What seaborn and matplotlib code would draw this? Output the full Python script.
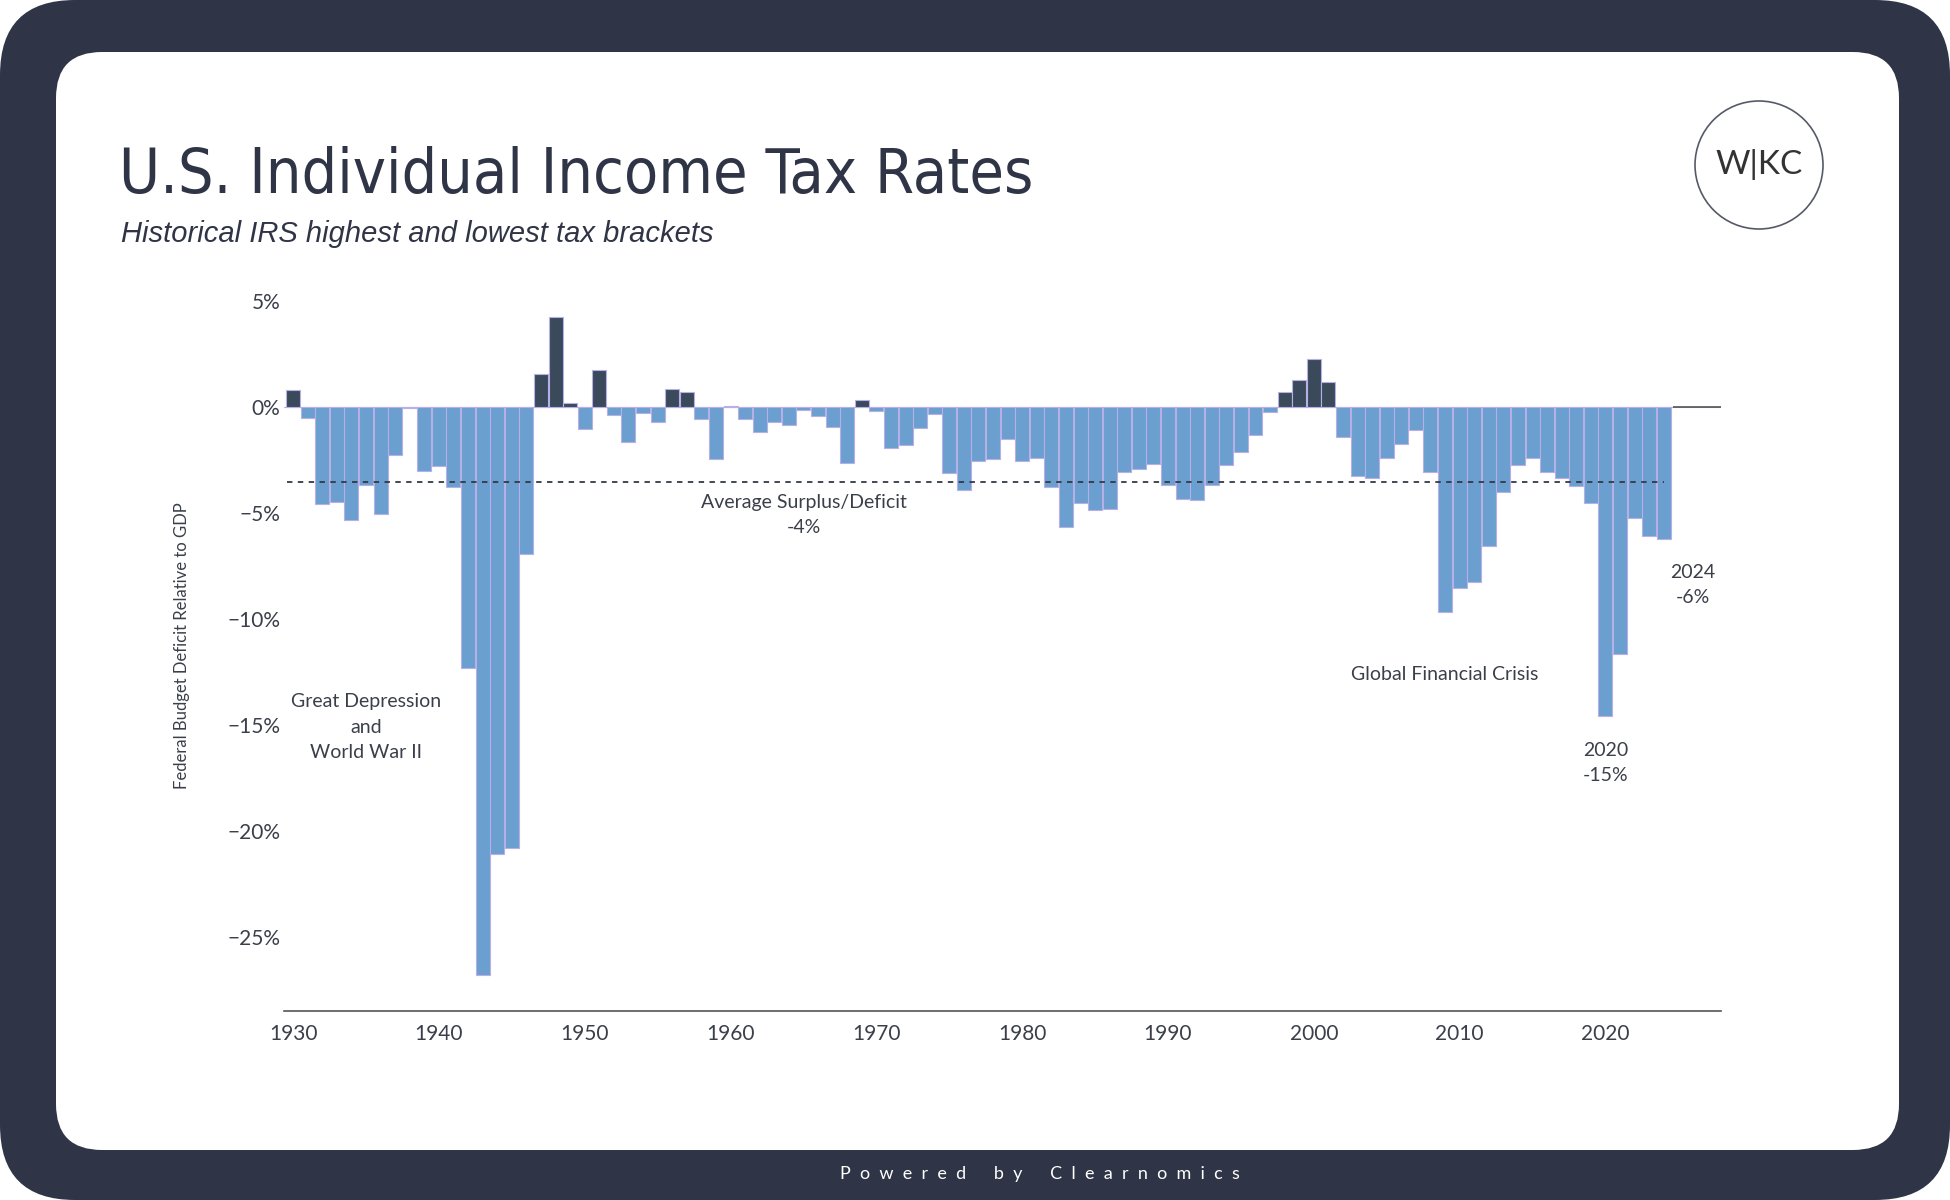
import numpy as np
import pandas as pd
import seaborn as sns
import matplotlib.pyplot as plt
from matplotlib.patches import FancyBboxPatch, Ellipse

# Federal surplus (+) / deficit (-) as % of GDP, 1930-2024
years = list(range(1930, 2025))
values = [
    0.78, -0.53, -4.57, -4.48, -5.33, -3.70, -5.03, -2.28, -0.05, -3.00,    # 1930s
    -2.79, -3.76, -12.3, -26.8, -21.1, -20.8, -6.95, 1.57, 4.25, 0.19,      # 1940s
    -1.02, 1.73, -0.38, -1.64, -0.27, -0.69, 0.85, 0.69, -0.55, -2.44,      # 1950s
    0.05, -0.58, -1.17, -0.71, -0.87, -0.14, -0.41, -0.95, -2.63, 0.32,     # 1960s
    -0.20, -1.95, -1.79, -1.00, -0.35, -3.10, -3.91, -2.53, -2.47, -1.50,   # 1970s
    -2.55, -2.42, -3.78, -5.68, -4.54, -4.86, -4.79, -3.06, -2.94, -2.67,   # 1980s
    -3.67, -4.33, -4.41, -3.69, -2.75, -2.10, -1.30, -0.24, 0.72, 1.27,     # 1990s
    2.26, 1.16, -1.41, -3.25, -3.34, -2.40, -1.76, -1.08, -3.08, -9.69,     # 2000s
    -8.54, -8.27, -6.58, -3.99, -2.72, -2.40, -3.08, -3.36, -3.74, -4.52,   # 2010s
    -14.57, -11.65, -5.26, -6.08, -6.22,                                    # 2020s
]
avg_deficit = -3.55
yticks = [5, 0, -5, -10, -15, -20, -25]
ytick_labels = ["5%", "0%", "\u22125%", "\u221210%", "\u221215%", "\u221220%", "\u221225%"]
xtick_years = [1930, 1940, 1950, 1960, 1970, 1980, 1990, 2000, 2010, 2020]

NAVY = "#2f3546"
TEXT = "#3a3f4a"
BLUE = "#6b9fcf"
DARK = "#3b4a5b"
EDGE = "#b7b0e6"

df = pd.DataFrame({"year": years, "value": values})
df["kind"] = np.where(df["value"] > 0, "surplus", "deficit")

sns.set_theme(style="white")
plt.rcParams["font.family"] = ["Lato", "DejaVu Sans"]

fig = plt.figure(figsize=(19.5, 12), dpi=100)

# background frame in pixel coordinates
bg = fig.add_axes([0, 0, 1, 1], zorder=0)
bg.set_xlim(0, 1950)
bg.set_ylim(0, 1200)
bg.axis("off")
bg.add_patch(FancyBboxPatch((0, 0), 1950, 1200, boxstyle="round,pad=0,rounding_size=75",
                            facecolor=NAVY, edgecolor="none"))
bg.add_patch(FancyBboxPatch((56, 50), 1843, 1098, boxstyle="round,pad=0,rounding_size=46",
                            facecolor="white", edgecolor="none"))

bg.text(119, 1007, "U.S. Individual Income Tax Rates", fontsize=45, color=NAVY,
        family="DejaVu Sans", fontstretch="condensed", ha="left", va="baseline")
bg.text(121, 958, "Historical IRS highest and lowest tax brackets", fontsize=21, color=NAVY,
        style="italic", family=["Liberation Sans", "DejaVu Sans"], ha="left", va="baseline")
bg.add_patch(Ellipse((1759, 1035), 128, 128, facecolor="white", edgecolor="#555a66", lw=1.2))
bg.text(1759, 1035, "W|KC", fontsize=24, color="#333333", ha="center", va="center")

footer = "      ".join("  ".join(word) for word in ["Powered", "by", "Clearnomics"])
bg.text(1040, 26, footer, fontsize=13, color="white", ha="center", va="center")

# main chart
ax = fig.add_axes([0.1458, 0.1575, 0.7366, 0.6093], zorder=1)
ax.patch.set_alpha(0)
sns.barplot(data=df, x="year", y="value", hue="kind", palette={"surplus": DARK, "deficit": BLUE},
            dodge=False, legend=False, width=0.96, edgecolor=EDGE, linewidth=0.8,
            saturation=1, ax=ax, zorder=2)

ax.set_xlim(-0.6, 97.9)
ax.set_ylim(-28.5, 6)
ax.axhline(0, color=EDGE, lw=0.8, zorder=1)
ax.hlines(0, len(years) - 0.4, 97.9, color="#555555", lw=1.2, zorder=3)
ax.hlines(avg_deficit, -0.4, len(years) - 1, color="#333a44", lw=1.3,
          linestyles=(0, (3, 3)), zorder=4)

ax.set_yticks(yticks)
ax.set_yticklabels(ytick_labels)
ax.set_xticks([years.index(y) for y in xtick_years])
ax.set_xticklabels([str(y) for y in xtick_years])
ax.tick_params(axis="both", length=0, labelsize=15, colors=TEXT)
ax.tick_params(axis="x", pad=9)
ax.tick_params(axis="y", pad=3)
ax.set_xlabel("")
ax.set_ylabel("Federal Budget Deficit Relative to GDP", fontsize=12, color=TEXT)
ax.yaxis.set_label_coords(-0.066, 0.5)

for side in ["top", "right", "left"]:
    ax.spines[side].set_visible(False)
ax.spines["bottom"].set_color("#555555")
ax.spines["bottom"].set_linewidth(1.2)

ann = dict(fontsize=14, color=TEXT, ha="center", va="center", linespacing=1.6, zorder=5)
ax.text(5, -15.1, "Great Depression\nand\nWorld War II", **ann)
ax.text(35, -5.1, "Average Surplus/Deficit\n-4%", **ann)
ax.text(79, -12.6, "Global Financial Crisis", **ann)
ax.text(90, -16.8, "2020\n-15%", **ann)
ax.text(96, -8.4, "2024\n-6%", **ann)

fig.savefig("out.png", dpi=100, facecolor="white")
